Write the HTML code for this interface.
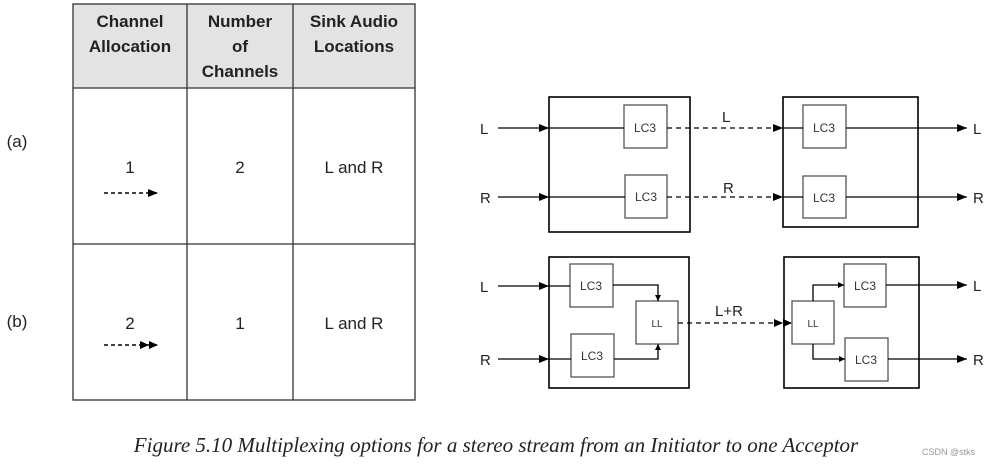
<!DOCTYPE html><html><head><style>body{margin:0;background:#fff;width:994px;height:467px;overflow:hidden;position:relative}
</style></head><body>
<svg width="994" height="467" style="position:absolute;left:0;top:0" font-family="Liberation Sans, sans-serif">
<defs><marker id="a" markerWidth="10" markerHeight="8" refX="10" refY="4" orient="auto" markerUnits="userSpaceOnUse"><path d="M0,0L10,4L0,8z" fill="#000"/></marker>
<marker id="s" markerWidth="6" markerHeight="6" refX="6" refY="3" orient="auto" markerUnits="userSpaceOnUse"><path d="M0,0L6,3L0,6z" fill="#000"/></marker>
<marker id="d" markerWidth="18" markerHeight="8" refX="18" refY="4" orient="auto" markerUnits="userSpaceOnUse"><path d="M0,0L9,4L0,8zM9,0L18,4L9,8z" fill="#000"/></marker></defs>
<rect x="73" y="4" width="342" height="84" fill="#e3e3e3"/>
<g stroke="#333" stroke-width="1.3" fill="none"><rect x="73" y="4" width="342" height="396"/>
<line x1="187" y1="4" x2="187" y2="400"/><line x1="293" y1="4" x2="293" y2="400"/>
<line x1="73" y1="88" x2="415" y2="88"/><line x1="73" y1="244" x2="415" y2="244"/></g>
<g font-size="17" font-weight="bold" text-anchor="middle" fill="#222">
<text x="130" y="27">Channel</text><text x="130" y="52">Allocation</text>
<text x="240" y="27">Number</text><text x="240" y="52">of</text><text x="240" y="77">Channels</text>
<text x="354" y="27">Sink Audio</text><text x="354" y="52">Locations</text></g>
<g font-size="17" text-anchor="middle" fill="#222">
<text x="130" y="173">1</text><text x="240" y="173">2</text><text x="354" y="173">L and R</text>
<text x="130" y="329">2</text><text x="240" y="329">1</text><text x="354" y="329">L and R</text>
<text x="17" y="147">(a)</text><text x="17" y="327">(b)</text></g>
<g stroke="#000" stroke-width="1.3" fill="none">
<line x1="104" y1="193" x2="158" y2="193" stroke-dasharray="4,3" stroke-width="1.6" marker-end="url(#a)"/>
<line x1="104" y1="345" x2="158" y2="345" stroke-dasharray="4,3" stroke-width="1.6" marker-end="url(#d)"/>
<rect x="549" y="97" width="141" height="135" stroke-width="1.6"/>
<rect x="783" y="97" width="135" height="130" stroke-width="1.6"/>
<rect x="549" y="257" width="140" height="131" stroke-width="1.6"/>
<rect x="784" y="257" width="135" height="131" stroke-width="1.6"/>
<g stroke="#555" fill="#fff">
<rect x="624" y="105" width="43" height="43"/><rect x="625" y="175" width="42" height="43"/>
<rect x="803" y="105" width="43" height="43"/><rect x="803" y="176" width="43" height="42"/>
<rect x="570" y="264" width="43" height="43"/><rect x="571" y="334" width="43" height="43"/>
<rect x="636" y="301" width="42" height="43"/><rect x="792" y="301" width="42" height="43"/>
<rect x="844" y="264" width="42" height="43"/><rect x="845" y="338" width="43" height="43"/></g>
<line x1="498" y1="128" x2="549" y2="128" marker-end="url(#a)"/><line x1="549" y1="128" x2="624" y2="128"/>
<line x1="498" y1="197" x2="549" y2="197" marker-end="url(#a)"/><line x1="549" y1="197" x2="625" y2="197"/>
<line x1="667" y1="128" x2="783" y2="128" stroke-dasharray="5,4" marker-end="url(#a)"/>
<line x1="667" y1="197" x2="783" y2="197" stroke-dasharray="5,4" marker-end="url(#a)"/>
<line x1="783" y1="128" x2="803" y2="128"/><line x1="783" y1="197" x2="803" y2="197"/>
<line x1="846" y1="128" x2="967" y2="128" marker-end="url(#a)"/>
<line x1="846" y1="197" x2="967" y2="197" marker-end="url(#a)"/>
<line x1="498" y1="286" x2="549" y2="286" marker-end="url(#a)"/><line x1="549" y1="286" x2="570" y2="286"/>
<line x1="498" y1="359" x2="549" y2="359" marker-end="url(#a)"/><line x1="549" y1="359" x2="571" y2="359"/>
<polyline points="613,285 658,285 658,301" marker-end="url(#s)"/>
<polyline points="614,359 658,359 658,344" marker-end="url(#s)"/>
<line x1="678" y1="323" x2="792" y2="323" stroke-dasharray="5,4" marker-end="url(#d)"/>
<polyline points="813,301 813,285 844,285" marker-end="url(#s)"/>
<polyline points="813,344 813,359 845,359" marker-end="url(#s)"/>
<line x1="886" y1="285" x2="967" y2="285" marker-end="url(#a)"/>
<line x1="888" y1="359" x2="967" y2="359" marker-end="url(#a)"/></g>
<g font-size="15" fill="#222">
<text x="480" y="134">L</text><text x="480" y="203">R</text><text x="480" y="292">L</text><text x="480" y="365">R</text>
<text x="973" y="134">L</text><text x="973" y="203">R</text><text x="973" y="291">L</text><text x="973" y="365">R</text>
<text x="722" y="122">L</text><text x="723" y="193">R</text><text x="715" y="316">L+R</text></g>
<g font-size="12" text-anchor="middle" fill="#333">
<text x="645" y="132">LC3</text><text x="646" y="201">LC3</text><text x="824" y="132">LC3</text><text x="824" y="202">LC3</text>
<text x="591" y="290">LC3</text><text x="592" y="360">LC3</text><text x="865" y="290">LC3</text><text x="866" y="364">LC3</text>
<text x="657" y="327" font-size="10">LL</text><text x="813" y="327" font-size="10">LL</text></g>
<text x="496" y="452" font-size="21" font-style="italic" text-anchor="middle" font-family="Liberation Serif, serif" fill="#222">Figure 5.10  Multiplexing options for a stereo stream from an Initiator to one Acceptor</text>
<text x="922" y="455" font-size="9" fill="#999">CSDN @stks</text>
</svg></body></html>
